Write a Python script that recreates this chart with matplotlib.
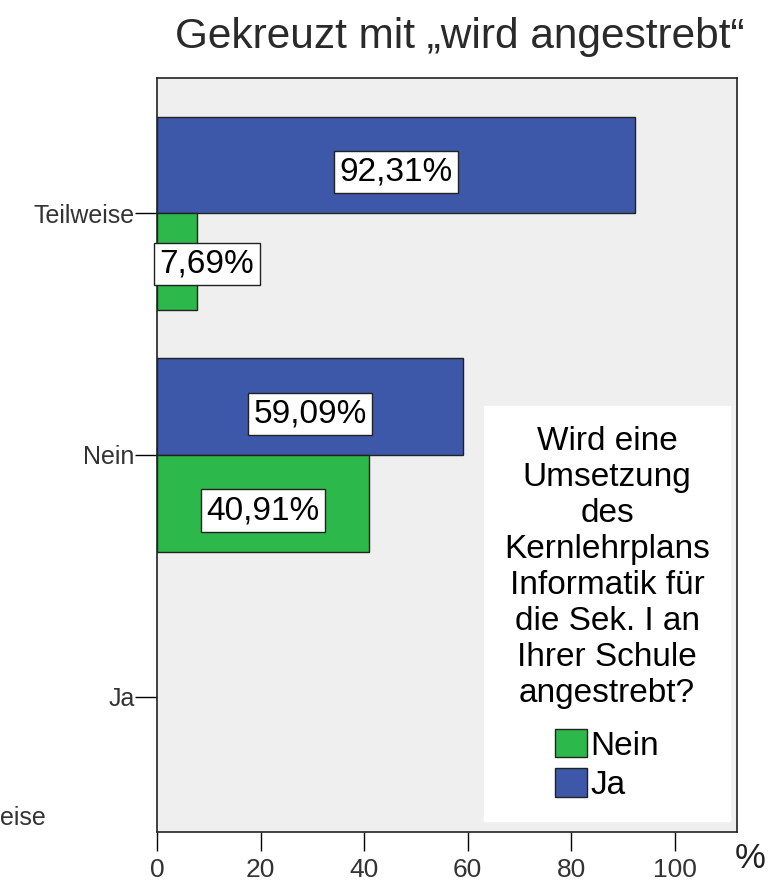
import numpy as np
import matplotlib
matplotlib.use("Agg")
from matplotlib import pyplot as plt
from matplotlib.patches import Patch

#
# Data
#
categories = ["Teilweise", "Nein", "Ja"]
ja_values = [92.31, 59.09, 0.0]
nein_values = [7.69, 40.91, 0.0]
ja_labels = ["92,31%", "59,09%", ""]
nein_labels = ["7,69%", "40,91%", ""]
xticks = [0, 20, 40, 60, 80, 100]

BLUE = "#3D57A9"
GREEN = "#2DB84B"
BG = "#EFEFEF"

plt.rcParams['font.family'] = ['Liberation Sans', 'DejaVu Sans']

fig = plt.figure(figsize=(7.68, 8.81), dpi=100)
ax = fig.add_axes([0.2044, 0.0556, 0.7552, 0.8559])
ax.set_facecolor(BG)

y = np.arange(len(categories))
h = 0.40
for i in range(len(categories)):
    # empty categories get no bar at all
    if ja_values[i] > 0:
        ax.barh(y[i] - h / 2, ja_values[i], height=h, color=BLUE, edgecolor="#222222", linewidth=1.0)
    if nein_values[i] > 0:
        ax.barh(y[i] + h / 2, nein_values[i], height=h, color=GREEN, edgecolor="#222222", linewidth=1.0)

# value labels in white boxes
box = dict(boxstyle="square,pad=0.17", facecolor="white", edgecolor="#222222", linewidth=1.0)
for i in range(len(categories)):
    if ja_labels[i]:
        ax.text(ja_values[i] / 2, y[i] - h / 2 + 0.03, ja_labels[i], ha="center", va="center",
                fontsize=24, bbox=box)
    if nein_labels[i]:
        v = nein_values[i]
        if v < 20:
            ax.text(0.5, y[i] + h / 2 + 0.01, nein_labels[i], ha="left", va="center",
                    fontsize=24, bbox=box)
        else:
            ax.text(v / 2, y[i] + h / 2 + 0.03, nein_labels[i], ha="center", va="center",
                    fontsize=24, bbox=box)

ax.set_xlim(0, 112)
ax.set_ylim(2.56, -0.56)
ax.set_yticks(y)
ax.set_yticklabels(categories, fontsize=18, color="#333333")
ax.set_xticks(xticks)
ax.set_xticklabels([str(t) for t in xticks], fontsize=19, color="#333333")
ax.tick_params(axis="y", length=16, width=1.0, pad=0)
ax.tick_params(axis="x", length=14, width=1.0, pad=5)
for s in ax.spines.values():
    s.set_color("#222222")
    s.set_linewidth(1.2)

# legend
handles = [Patch(facecolor=GREEN, edgecolor="#222222", label="Nein"),
           Patch(facecolor=BLUE, edgecolor="#222222", label="Ja")]
leg = ax.legend(handles=handles,
                title="Wird eine\nUmsetzung\ndes\nKernlehrplans\nInformatik für\ndie Sek. I an\nIhrer Schule\nangestrebt?",
                loc="lower right", bbox_to_anchor=(0.988, 0.0146), fontsize=24, title_fontsize=24,
                frameon=True, fancybox=False, facecolor="white", edgecolor="white", framealpha=1,
                handlelength=0.95, handleheight=0.95, handletextpad=0.1, labelspacing=0.2,
                borderpad=0.6, borderaxespad=0)
leg.get_title().set_multialignment("center")
leg.get_title().set_linespacing(1.21)
leg._legend_box.sep = 14  # gap between title and entries

fig.text(0.598, 0.958, "Gekreuzt mit \u201ewird angestrebt\u201c", ha="center", va="center",
         fontsize=30.5, color="#2a2a2a")
fig.text(0.977, 0.025, "%", ha="center", va="center", fontsize=25, color="#222222")
fig.text(0.0, 0.072, "eise", ha="left", va="center", fontsize=18, color="#333333")

fig.savefig("out.png", dpi=100)
